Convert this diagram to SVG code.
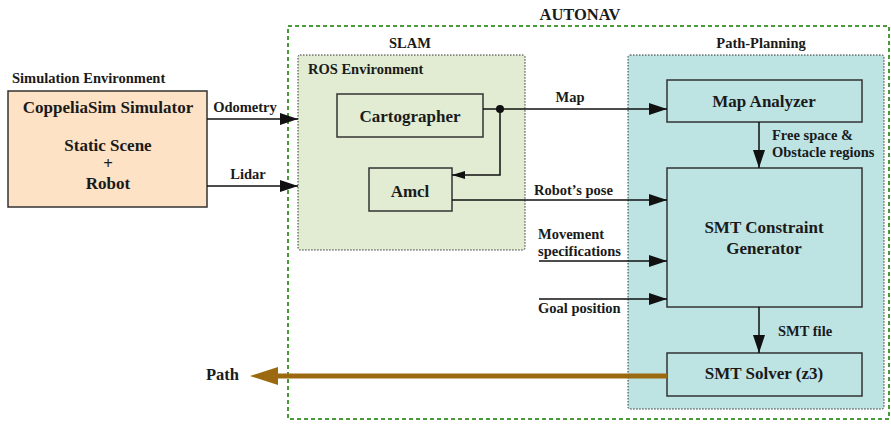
<svg xmlns="http://www.w3.org/2000/svg" width="891" height="424" viewBox="0 0 891 424">
<defs>
<style>
.lbl{font-size:14.5px}
.node{font-size:17px}
.box{fill:none;stroke:#333;stroke-width:1.5}
.ln{fill:none;stroke:#111;stroke-width:1.5}
.mid{text-anchor:middle}
</style>
<marker id="ah" viewBox="0 0 18 12" refX="18" refY="6" markerWidth="18" markerHeight="12" markerUnits="userSpaceOnUse" orient="auto">
<path d="M0,0 L18,6 L0,12 Z" fill="#111"/>
</marker>
<marker id="ahs" viewBox="0 0 13 8" refX="13" refY="4" markerWidth="13" markerHeight="8" markerUnits="userSpaceOnUse" orient="auto">
<path d="M0,0 L13,4 L0,8 Z" fill="#111"/>
</marker>
</defs>

<g id="autonav">
<rect x="288" y="26" width="601" height="393" fill="none" stroke="#4a9a3a" stroke-width="2" stroke-dasharray="4,3"/>
<text x="580" y="20" class="mid" font-family="Liberation Serif" font-weight="bold" fill="#1a1a1a" font-size="16.5">AUTONAV</text>
</g>

<g id="slam">
<text x="410" y="48" class="lbl mid" font-family="Liberation Serif" font-weight="bold" fill="#1a1a1a">SLAM</text>
<rect x="298" y="55" width="227" height="195" rx="2" fill="#e1ecd3" stroke="#333" stroke-width="1" stroke-dasharray="1.5,1.5"/>
<text x="308" y="74" font-family="Liberation Serif" font-weight="bold" fill="#1a1a1a" font-size="14.5">ROS Environment</text>
</g>

<g id="path-planning">
<text x="761" y="48" class="lbl mid" font-family="Liberation Serif" font-weight="bold" fill="#1a1a1a">Path-Planning</text>
<rect x="628" y="55" width="256" height="354" rx="2" fill="#bde3e3" stroke="#333" stroke-width="1" stroke-dasharray="1.5,1.5"/>
</g>

<g id="sim-env">
<text x="12" y="83" class="lbl" font-family="Liberation Serif" font-weight="bold" fill="#1a1a1a">Simulation Environment</text>
<rect x="8" y="91" width="199" height="116" fill="#fde2c6" stroke="#333" stroke-width="1.5"/>
<text x="108" y="113" class="node mid" font-family="Liberation Serif" font-weight="bold" fill="#1a1a1a">CoppeliaSim Simulator</text>
<text x="108" y="151" class="node mid" font-family="Liberation Serif" font-weight="bold" fill="#1a1a1a">Static Scene</text>
<text x="108" y="169" class="node mid" font-family="Liberation Serif" font-weight="bold" fill="#1a1a1a">+</text>
<text x="108" y="189" class="node mid" font-family="Liberation Serif" font-weight="bold" fill="#1a1a1a">Robot</text>
</g>

<g id="cartographer">
<rect x="337" y="94" width="146" height="43" class="box"/>
<text x="410" y="122" class="node mid" font-family="Liberation Serif" font-weight="bold" fill="#1a1a1a">Cartographer</text>
</g>

<g id="amcl">
<rect x="369" y="168" width="83" height="43" class="box"/>
<text x="410" y="197" class="node mid" font-family="Liberation Serif" font-weight="bold" fill="#1a1a1a">Amcl</text>
</g>

<g id="map-analyzer">
<rect x="667" y="80" width="195" height="42" class="box"/>
<text x="764" y="107" class="node mid" font-family="Liberation Serif" font-weight="bold" fill="#1a1a1a">Map Analyzer</text>
</g>

<g id="smt-generator">
<rect x="667" y="168" width="195" height="139" class="box"/>
<text x="764" y="233" class="node mid" font-family="Liberation Serif" font-weight="bold" fill="#1a1a1a">SMT Constraint</text>
<text x="764" y="254" class="node mid" font-family="Liberation Serif" font-weight="bold" fill="#1a1a1a">Generator</text>
</g>

<g id="smt-solver">
<rect x="667" y="353" width="195" height="43" class="box"/>
<text x="764" y="379" class="node mid" font-family="Liberation Serif" font-weight="bold" fill="#1a1a1a">SMT Solver (z3)</text>
</g>

<g id="path-out">
<text x="206" y="380" font-family="Liberation Serif" font-weight="bold" fill="#1a1a1a" font-size="16.5">Path</text>
</g>

<g id="connectors">
<line x1="207" y1="119" x2="298" y2="119" class="ln" marker-end="url(#ah)"/>
<text x="245" y="112" class="lbl mid" font-family="Liberation Serif" font-weight="bold" fill="#1a1a1a">Odometry</text>
<line x1="207" y1="186" x2="298" y2="186" class="ln" marker-end="url(#ah)"/>
<text x="248" y="179" class="lbl mid" font-family="Liberation Serif" font-weight="bold" fill="#1a1a1a">Lidar</text>

<line x1="483" y1="109" x2="667" y2="109" class="ln" marker-end="url(#ah)"/>
<circle cx="500" cy="109" r="4" fill="#111"/>
<text x="570" y="102" class="lbl mid" font-family="Liberation Serif" font-weight="bold" fill="#1a1a1a">Map</text>
<polyline points="500,109 500,175 452,175" class="ln" marker-end="url(#ahs)"/>

<line x1="452" y1="200" x2="667" y2="200" class="ln" marker-end="url(#ah)"/>
<text x="534" y="195" class="lbl" font-family="Liberation Serif" font-weight="bold" fill="#1a1a1a">Robot’s pose</text>

<line x1="759" y1="122" x2="759" y2="168" class="ln" marker-end="url(#ah)"/>
<text x="772" y="140" class="lbl" font-family="Liberation Serif" font-weight="bold" fill="#1a1a1a">Free space &amp;</text>
<text x="772" y="157" class="lbl" font-family="Liberation Serif" font-weight="bold" fill="#1a1a1a">Obstacle regions</text>

<line x1="539" y1="261" x2="667" y2="261" class="ln" marker-end="url(#ah)"/>
<text x="538" y="239" class="lbl" font-family="Liberation Serif" font-weight="bold" fill="#1a1a1a">Movement</text>
<text x="538" y="256" class="lbl" font-family="Liberation Serif" font-weight="bold" fill="#1a1a1a">specifications</text>

<line x1="539" y1="299" x2="667" y2="299" class="ln" marker-end="url(#ah)"/>
<text x="538" y="313" class="lbl" font-family="Liberation Serif" font-weight="bold" fill="#1a1a1a">Goal position</text>

<line x1="759" y1="307" x2="759" y2="353" class="ln" marker-end="url(#ah)"/>
<text x="778" y="336" class="lbl" font-family="Liberation Serif" font-weight="bold" fill="#1a1a1a">SMT file</text>

<line x1="667" y1="376" x2="276" y2="376" stroke="#9b6a10" stroke-width="5"/>
<path d="M250,376 L278,367 L278,385 Z" fill="#9b6a10"/>
</g>
</svg>
